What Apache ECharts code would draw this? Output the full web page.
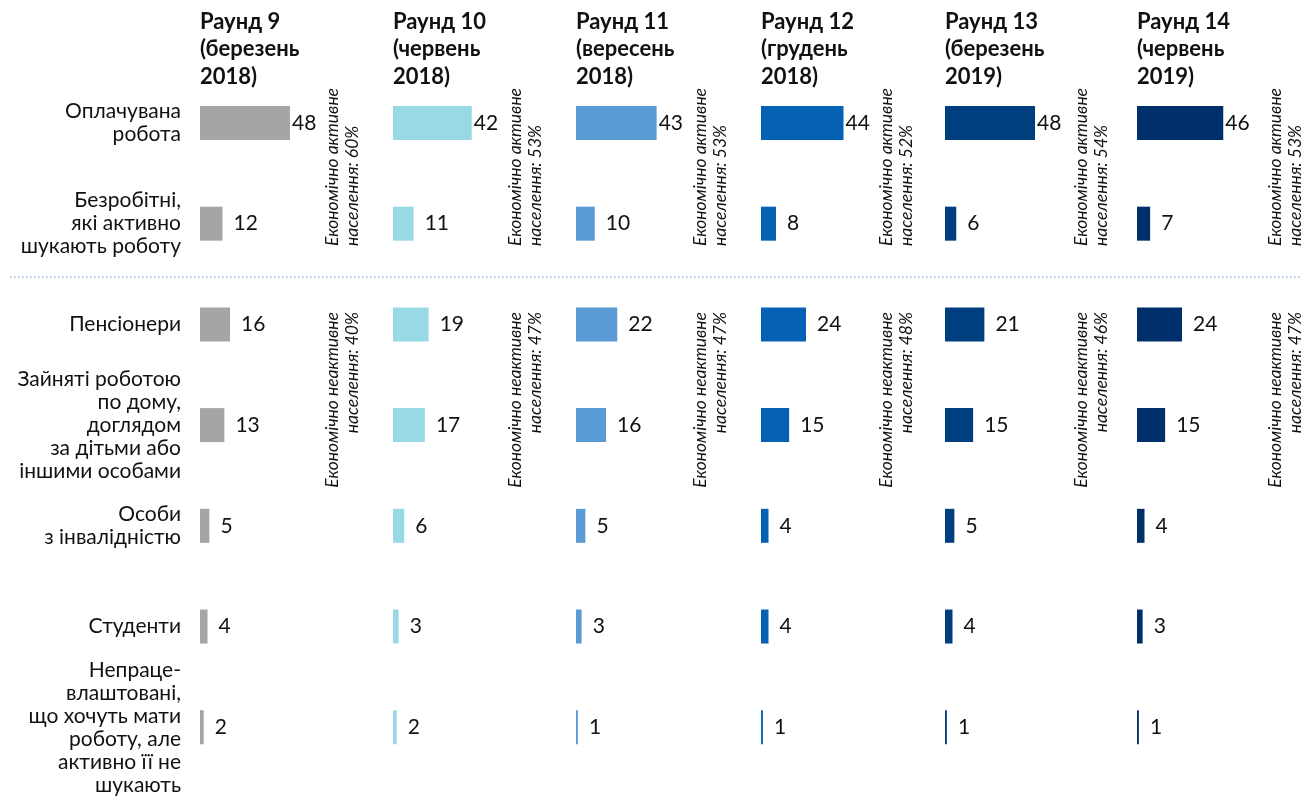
<!DOCTYPE html>
<html>
<head>
<meta charset="utf-8">
<script src="https://cdn.jsdelivr.net/npm/echarts@6/dist/echarts.min.js"></script>
<style>
html,body{margin:0;padding:0;background:#fff;}
#main{width:1304px;height:801px;}
</style>
</head>
<body>
<div id="main"></div>
<script>
const categories = [
  'Оплачувана\nробота',
  'Безробітні,\nякі активно\nшукають роботу',
  'Пенсіонери',
  'Зайняті роботою\nпо дому,\nдоглядом\nза дітьми або\nіншими особами',
  'Особи\nз інвалідністю',
  'Студенти',
  'Непраце-\nвлаштовані,\nщо хочуть мати\nроботу, але\nактивно її не\nшукають'
];
const rounds = [
  'Раунд 9\n(березень\n2018)',
  'Раунд 10\n(червень\n2018)',
  'Раунд 11\n(вересень\n2018)',
  'Раунд 12\n(грудень\n2018)',
  'Раунд 13\n(березень\n2019)',
  'Раунд 14\n(червень\n2019)'
];
const round9  = [48, 12, 16, 13, 5, 4, 2];
const round10 = [42, 11, 19, 17, 6, 3, 2];
const round11 = [43, 10, 22, 16, 5, 3, 1];
const round12 = [44, 8, 24, 15, 4, 4, 1];
const round13 = [48, 6, 21, 15, 5, 4, 1];
const round14 = [46, 7, 24, 15, 4, 3, 1];
const activeShare   = [60, 53, 53, 52, 54, 53];
const inactiveShare = [40, 47, 47, 48, 46, 47];

const seriesValues = [round9, round10, round11, round12, round13, round14];
const colors = ['#a5a5a5', '#98d9e6', '#5b9bd5', '#0561b3', '#003f7f', '#00306b'];
const gridLefts = [200, 393, 576, 761, 945, 1137];
const annotX = [342, 525, 710, 896, 1091, 1285];
const FONT = 'Lato, "Open Sans", sans-serif';

const grids = [], xAxes = [], yAxes = [], series = [], graphics = [];
gridLefts.forEach((left, i) => {
  grids.push({left: left, top: 72.6, width: 150, height: 705});
  xAxes.push({type: 'value', gridIndex: i, min: 0, max: 80, show: false});
  yAxes.push({
    type: 'category', gridIndex: i, data: categories, inverse: true,
    axisLine: {show: false}, axisTick: {show: false}, splitLine: {show: false},
    axisLabel: {
      show: i === 0, margin: 19, fontSize: 21, lineHeight: 23,
      color: '#111', fontFamily: FONT, align: 'right'
    }
  });
  series.push({
    type: 'bar', xAxisIndex: i, yAxisIndex: i, barWidth: 34,
    itemStyle: {color: colors[i]},
    data: seriesValues[i].map(v => ({value: v, label: {distance: v > 30 ? 2 : 11}})),
    label: {show: true, position: 'right', fontSize: 21, color: '#111', fontFamily: FONT},
    silent: true
  });
  graphics.push({
    type: 'text', left: left, top: 8,
    style: {text: rounds[i], font: 'bold 22px ' + FONT, lineHeight: 27.5, fill: '#111'}
  });
  graphics.push({
    type: 'text', x: annotX[i], y: 246, rotation: Math.PI / 2,
    style: {
      text: 'Економічно активне\nнаселення: ' + activeShare[i] + '%',
      font: 'italic 17.5px ' + FONT, lineHeight: 20, fill: '#111',
      textAlign: 'left', textVerticalAlign: 'middle'
    }
  });
  graphics.push({
    type: 'text', x: annotX[i], y: 312, rotation: Math.PI / 2,
    style: {
      text: 'Економічно неактивне\nнаселення: ' + inactiveShare[i] + '%',
      font: 'italic 17.5px ' + FONT, lineHeight: 20, fill: '#111',
      textAlign: 'right', textVerticalAlign: 'middle'
    }
  });
});
graphics.push({
  type: 'line', shape: {x1: 10, y1: 277, x2: 1300, y2: 277},
  style: {stroke: '#5b9bd5', lineWidth: 1, lineDash: [1.5, 2.5]}
});

const chart = echarts.init(document.getElementById('main'));
chart.setOption({
  animation: false,
  grid: grids, xAxis: xAxes, yAxis: yAxes, series: series, graphic: graphics
});
</script>
</body>
</html>
